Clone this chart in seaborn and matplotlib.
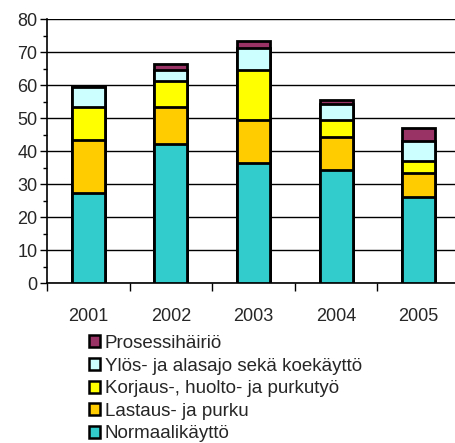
import matplotlib
matplotlib.use('Agg')
import matplotlib.pyplot as plt
import seaborn as sns
import numpy as np
from matplotlib.patches import Patch

# ── 数据 ──
years = ['2001', '2002', '2003', '2004', '2005']
normaali = [27.2, 42.2, 36.3, 34.3, 26.2]
lastaus = [16.1, 11.1, 13.1, 10.1, 7.1]
korjaus = [10.0, 8.0, 15.1, 5.0, 3.6]
ylos = [6.0, 3.3, 6.6, 4.9, 6.3]
prosessi = [0.0, 1.8, 2.2, 1.2, 3.9]

series_names = ['Normaalikäyttö', 'Lastaus- ja purku', 'Korjaus-, huolto- ja purkutyö',
                'Ylös- ja alasajo sekä koekäyttö', 'Prosessihäiriö']
series_vals = [normaali, lastaus, korjaus, ylos, prosessi]
colors = ['#33CCCC', '#FFCC00', '#FFFF00', '#CCFFFF', '#993366']

sns.set_style('white')
plt.rcParams['font.family'] = ['Liberation Sans', 'DejaVu Sans']

fig = plt.figure(figsize=(4.56, 4.43), dpi=100)
ax = fig.add_axes([47 / 456, (443 - 283.3) / 443, 413 / 456, 264.3 / 443])

# 堆叠：从总量往下画，后画的覆盖先画的
cum = np.cumsum(np.array(series_vals), axis=0)
for i in range(len(series_vals) - 1, -1, -1):
    sns.barplot(x=years, y=cum[i], color=colors[i], saturation=1, width=0.4,
                edgecolor='black', linewidth=2, ax=ax, zorder=3)

ax.set_ylim(0, 80)
ax.set_xlim(-0.5, 4.5)
ax.set_yticks(range(0, 81, 10))
ax.set_yticks(range(5, 80, 10), minor=True)
ax.yaxis.grid(True, color='black', linewidth=1)
ax.set_axisbelow(True)
ax.tick_params(axis='y', which='major', length=5, width=1, color='black',
               labelsize=13, pad=2, left=True)
ax.tick_params(axis='y', which='minor', length=3, width=1, color='black', left=True)

ax.set_xticks(np.arange(-0.5, 4.6, 1.0), minor=True)
ax.tick_params(axis='x', which='minor', length=6, width=1, color='black', bottom=True)
ax.tick_params(axis='x', which='major', length=0, labelsize=13, pad=18)
ax.set_xlabel('')
ax.set_ylabel('')

for s in ['top', 'right']:
    ax.spines[s].set_visible(False)
for s in ['left', 'bottom']:
    ax.spines[s].set_color('black')
    ax.spines[s].set_linewidth(1.2)

handles = [Patch(facecolor=c, edgecolor='black', linewidth=1.8) for c in colors]
fig.legend(handles[::-1], series_names[::-1], loc='upper left',
           bbox_to_anchor=(89 / 456, (443 - 335) / 443), frameon=False,
           fontsize=13.5, handlelength=0.6, handleheight=0.6, handletextpad=0.25,
           labelspacing=0.3, borderaxespad=0, borderpad=0)

fig.savefig('out.png', dpi=100)
